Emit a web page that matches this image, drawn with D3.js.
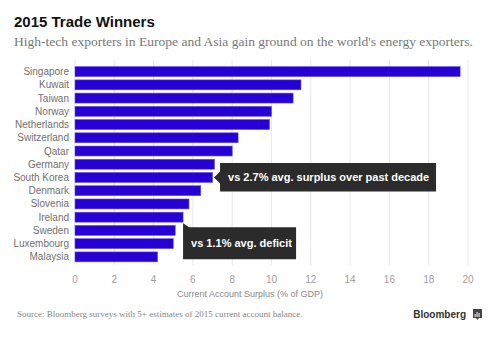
<!DOCTYPE html>
<html>
<head>
<meta charset="utf-8">
<script src="https://cdn.jsdelivr.net/npm/d3@7"></script>
<style>
  body { margin: 0; background: #fff; }
  svg { display: block; }
</style>
</head>
<body>
<script>
'use strict';
// chart data
const countries = ['Singapore', 'Kuwait', 'Taiwan', 'Norway', 'Netherlands', 'Switzerland', 'Qatar',
  'Germany', 'South Korea', 'Denmark', 'Slovenia', 'Ireland', 'Sweden', 'Luxembourg', 'Malaysia'];
const surplus = [19.6, 11.5, 11.1, 10.0, 9.9, 8.3, 8.0, 7.1, 7.0, 6.4, 5.8, 5.5, 5.1, 5.0, 4.2];
const xTicks = [0, 2, 4, 6, 8, 10, 12, 14, 16, 18, 20];
const notes = [
  { country: 'South Korea', text: 'vs 2.7% avg. surplus over past decade' },
  { country: 'Ireland', text: 'vs 1.1% avg. deficit' }
];

(function () {
  const width = 500, height = 341;
  const svg = d3.select('body').append('svg')
    .attr('width', width).attr('height', height);

  const data = countries.map((c, i) => ({ country: c, value: surplus[i] }));

  const x = d3.scaleLinear().domain([0, 20]).range([75, 468]);
  const y = d3.scaleBand().domain(countries).range([65, 263.5])
    .paddingInner(0.25).paddingOuter(0.125);

  // title block
  svg.append('text')
    .attr('x', 14).attr('y', 27)
    .style('font', 'bold 15px "Liberation Sans", Arial, sans-serif')
    .attr('fill', '#111')
    .text('2015 Trade Winners');
  svg.append('text')
    .attr('x', 14).attr('y', 46)
    .attr('textLength', 459).attr('lengthAdjust', 'spacingAndGlyphs')
    .style('font', '13px "Liberation Serif", Georgia, serif')
    .attr('fill', '#777')
    .text("High-tech exporters in Europe and Asia gain ground on the world's energy exporters.");

  // grid
  svg.append('g').selectAll('line')
    .data(xTicks).enter().append('line')
    .attr('x1', d => x(d)).attr('x2', d => x(d))
    .attr('y1', 60).attr('y2', 265)
    .attr('stroke', '#e8e8e8').attr('stroke-width', 1);

  // x axis labels
  svg.append('g').selectAll('text')
    .data(xTicks).enter().append('text')
    .attr('x', d => x(d)).attr('y', 283)
    .attr('text-anchor', 'middle')
    .style('font', '10px "Liberation Sans", Arial, sans-serif')
    .attr('fill', '#a0a0a0')
    .text(d => d);
  svg.append('text')
    .attr('x', 250).attr('y', 297)
    .attr('text-anchor', 'middle')
    .style('font', '9px "Liberation Sans", Arial, sans-serif')
    .attr('fill', '#888')
    .text('Current Account Surplus (% of GDP)');

  // bars
  svg.append('g').selectAll('rect')
    .data(data).enter().append('rect')
    .attr('x', x(0))
    .attr('y', d => y(d.country))
    .attr('width', d => x(d.value) - x(0))
    .attr('height', y.bandwidth())
    .attr('fill', '#2700d5')
    .attr('stroke', '#5e4fe6').attr('stroke-width', 0.6);

  // country labels
  svg.append('g').selectAll('text')
    .data(data).enter().append('text')
    .attr('x', 69)
    .attr('y', d => y(d.country) + y.bandwidth() / 2)
    .attr('dy', '0.35em')
    .attr('text-anchor', 'end')
    .style('font', '10px "Liberation Sans", Arial, sans-serif')
    .attr('fill', '#707070')
    .text(d => d.country);

  // callouts
  const noteFont = 'bold 11px "Liberation Sans", Arial, sans-serif';
  const v1 = surplus[countries.indexOf(notes[0].country)];
  const tipX = x(v1) + 1.5, tipY = y(notes[0].country) + y.bandwidth() / 2;
  const b1 = { x: tipX + 6, y: tipY - 14.5, w: 216, h: 28.5 };
  svg.append('path')
    .attr('d', `M${tipX},${tipY} L${b1.x},${tipY - 6} L${b1.x},${b1.y} L${b1.x + b1.w},${b1.y}
      L${b1.x + b1.w},${b1.y + b1.h} L${b1.x},${b1.y + b1.h} L${b1.x},${tipY + 6} Z`)
    .attr('fill', '#2b2b2b');
  svg.append('text')
    .attr('x', b1.x + 8).attr('y', tipY).attr('dy', '0.35em')
    .style('font', noteFont).attr('fill', '#fff')
    .text(notes[0].text);

  const v2 = surplus[countries.indexOf(notes[1].country)];
  const nx = x(v2), ny = y(notes[1].country) + y.bandwidth() + 1;
  const b2 = { x: nx, y: ny + 4, w: 113, h: 32 };
  svg.append('path')
    .attr('d', `M${nx},${ny} L${nx + 6},${b2.y} L${b2.x + b2.w},${b2.y}
      L${b2.x + b2.w},${b2.y + b2.h} L${b2.x},${b2.y + b2.h} Z`)
    .attr('fill', '#2b2b2b');
  svg.append('text')
    .attr('x', b2.x + 8).attr('y', b2.y + b2.h / 2).attr('dy', '0.35em')
    .style('font', noteFont).attr('fill', '#fff')
    .text(notes[1].text);

  // footer
  svg.append('text')
    .attr('x', 17).attr('y', 317)
    .style('font', '9px "Liberation Serif", Georgia, serif')
    .attr('fill', '#888')
    .text('Source: Bloomberg surveys with 5+ estimates of 2015 current account balance.');
  svg.append('text')
    .attr('x', 466).attr('y', 318)
    .attr('text-anchor', 'end')
    .style('font', 'bold 10px "Liberation Sans", Arial, sans-serif')
    .attr('fill', '#333')
    .text('Bloomberg');
  const logo = svg.append('g').attr('transform', 'translate(473,309)');
  logo.append('path')
    .attr('d', 'M0,0 H9 V9 H6 L4.5,11 L3,9 H0 Z')
    .attr('fill', '#444');
  logo.selectAll('rect.b').data([[2, 5], [4, 3], [6, 4]]).enter().append('rect')
    .attr('x', d => d[0] - 0.5).attr('y', d => d[1]).attr('width', 1.2).attr('height', d => 8 - d[1])
    .attr('fill', '#ddd');
})();
</script>
</body>
</html>
